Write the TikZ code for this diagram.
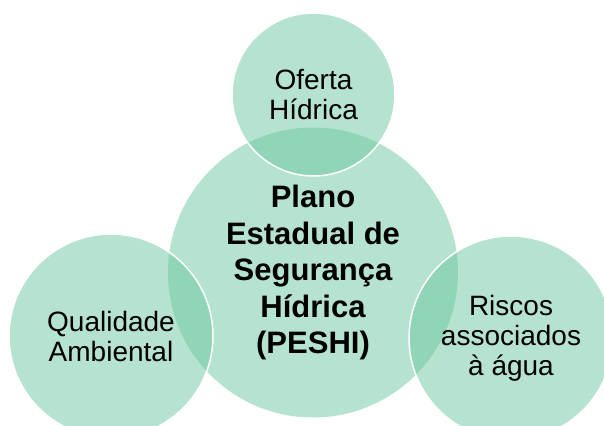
\documentclass[tikz,border=0pt]{standalone}
\usepackage{fontspec}
\setmainfont{Liberation Sans}
\usepackage{xcolor}
\usepackage{tikz}
\definecolor{petalgreen}{RGB}{107,199,159}

\begin{document}
\begin{tikzpicture}[
  x=1pt, y=-1pt,
  hub/.style={circle, fill=petalgreen, fill opacity=.5, text opacity=1,
    inner sep=0pt, minimum size=290pt, align=center,
    font=\bfseries\fontsize{31}{36.5}\selectfont},
  petal/.style={circle, draw=white, draw opacity=1, line width=1.5pt,
    fill=petalgreen, fill opacity=.5, text opacity=1,
    inner sep=0pt, minimum size=204pt, align=center,
    font=\fontsize{28}{30}\selectfont}
]
\useasboundingbox (0,0) rectangle (604,425);
\node[hub] (peshi) at (313,272.5) {Plano\\Estadual de\\Segurança\\Hídrica\\(PESHI)};
\node[petal, minimum size=163pt] (oferta) at (313.5,94.5) {Oferta\\Hídrica};
\node[petal] (qualidade) at (111,336) {Qualidade\\Ambiental};
\node[petal] (riscos) at (511,338) {Riscos\\associados\\à água};
\end{tikzpicture}
\end{document}
